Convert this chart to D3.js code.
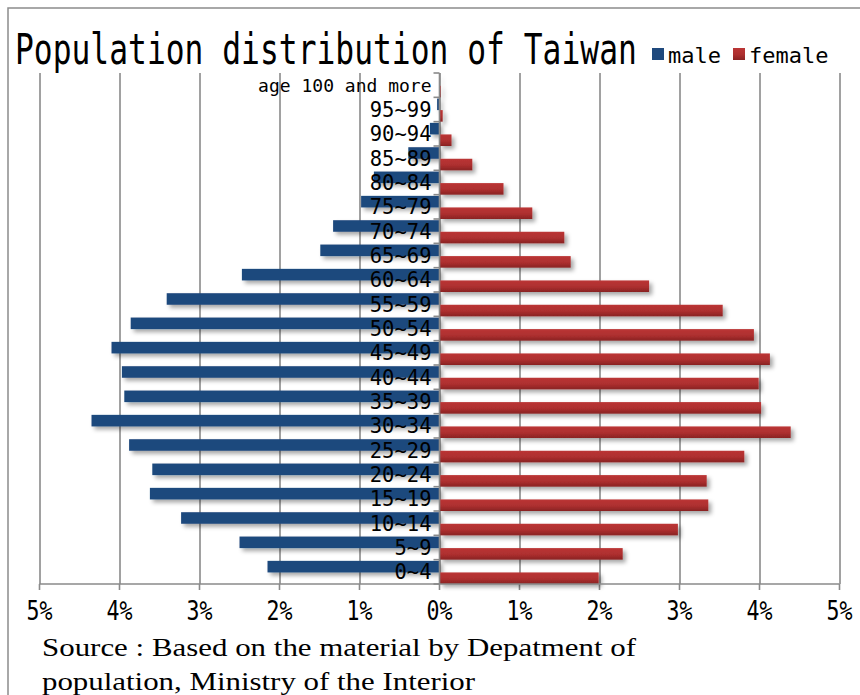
<!DOCTYPE html>
<html>
<head>
<meta charset="utf-8">
<script src="https://cdn.jsdelivr.net/npm/d3@7"></script>
<style>
  body { margin: 0; background: #fff; }
  svg { display: block; }
</style>
</head>
<body>
<div id="chart"></div>
<script>
// age groups, bottom to top
const ageGroups = ["0~4", "5~9", "10~14", "15~19", "20~24", "25~29", "30~34", "35~39",
  "40~44", "45~49", "50~54", "55~59", "60~64", "65~69", "70~74", "75~79",
  "80~84", "85~89", "90~94", "95~99", "age 100 and more"];
// percent of total population
const malePct = [2.15, 2.50, 3.23, 3.62, 3.59, 3.88, 4.35, 3.94, 3.97, 4.10, 3.86, 3.41,
  2.47, 1.49, 1.33, 0.98, 0.82, 0.39, 0.12, 0.03, 0.005];
const femalePct = [1.99, 2.29, 2.98, 3.36, 3.34, 3.81, 4.39, 4.02, 3.99, 4.13, 3.93, 3.54,
  2.62, 1.64, 1.56, 1.16, 0.80, 0.41, 0.15, 0.04, 0.015];
const xTicks = [-5, -4, -3, -2, -1, 0, 1, 2, 3, 4, 5];
const seriesNames = ["male", "female"];

const data = ageGroups.map((g, i) => ({ group: g, male: malePct[i], female: femalePct[i] }));

const width = 860, height = 695;
const plot = { left: 39.5, right: 839.5, top: 73, bottom: 584 };
const mono = "'DejaVu Sans Mono', 'Liberation Mono', monospace";

const svg = d3.select("#chart").append("svg")
  .attr("width", width)
  .attr("height", height);

const defs = svg.append("defs");
const shadow = defs.append("filter").attr("id", "shadow")
  .attr("x", "-10%").attr("y", "-50%").attr("width", "130%").attr("height", "250%");
shadow.append("feDropShadow")
  .attr("dx", 3).attr("dy", 3).attr("stdDeviation", 2)
  .attr("flood-color", "#000").attr("flood-opacity", 0.35);

const redGrad = defs.append("linearGradient").attr("id", "redGrad")
  .attr("x1", 0).attr("y1", 0).attr("x2", 0).attr("y2", 1);
redGrad.append("stop").attr("offset", "0%").attr("stop-color", "#bb3535");
redGrad.append("stop").attr("offset", "55%").attr("stop-color", "#ad2f2f");
redGrad.append("stop").attr("offset", "100%").attr("stop-color", "#892323");

const color = { male: "#1f497d", female: "url(#redGrad)" };

// outer frame
svg.append("rect")
  .attr("x", 8).attr("y", 8).attr("width", 900).attr("height", 800)
  .attr("fill", "none").attr("stroke", "#8c8c8c").attr("stroke-width", 1.5);

const x = d3.scaleLinear().domain([-5, 5]).range([plot.left, plot.right]);
const y = d3.scaleBand()
  .domain(ageGroups.slice().reverse())
  .range([plot.top, plot.bottom]);
const sub = d3.scaleBand()
  .domain(seriesNames)
  .range([1.2, y.bandwidth()]);

// vertical gridlines
svg.append("g")
  .attr("transform", `translate(0, ${plot.bottom})`)
  .call(d3.axisBottom(x).tickValues(xTicks).tickSize(-(plot.bottom - plot.top)).tickFormat(""))
  .call(g => g.select(".domain").remove())
  .call(g => g.selectAll("line").attr("stroke", "#8a8a8a").attr("stroke-width", 1.6));

// tick marks below the axis
svg.append("g")
  .selectAll("line")
  .data(xTicks)
  .join("line")
  .attr("x1", d => x(d)).attr("x2", d => x(d))
  .attr("y1", plot.bottom).attr("y2", plot.bottom + 6)
  .attr("stroke", "#8a8a8a").attr("stroke-width", 1.6);

// bars
const bars = svg.append("g").attr("filter", "url(#shadow)");
seriesNames.forEach(s => {
  bars.selectAll("rect." + s)
    .data(data)
    .join("rect")
    .attr("class", s)
    .attr("x", d => s === "male" ? x(-d[s]) : x(0))
    .attr("y", d => y(d.group) + sub(s))
    .attr("width", d => s === "male" ? x(0) - x(-d[s]) : x(d[s]) - x(0))
    .attr("height", sub.bandwidth())
    .attr("fill", color[s]);
});

// x axis line
svg.append("line")
  .attr("x1", plot.left).attr("x2", plot.right)
  .attr("y1", plot.bottom).attr("y2", plot.bottom)
  .attr("stroke", "#8a8a8a").attr("stroke-width", 1.6);

// category axis at 0 with outward ticks
const catAxis = svg.append("g");
catAxis.append("line")
  .attr("x1", x(0)).attr("x2", x(0))
  .attr("y1", plot.top).attr("y2", plot.bottom)
  .attr("stroke", "#8a8a8a").attr("stroke-width", 1.6);
catAxis.selectAll("line.tick")
  .data(y.domain().concat(["end"]))
  .join("line")
  .attr("class", "tick")
  .attr("x1", x(0) - 6).attr("x2", x(0))
  .attr("y1", (d, i) => plot.top + i * y.step())
  .attr("y2", (d, i) => plot.top + i * y.step())
  .attr("stroke", "#8a8a8a").attr("stroke-width", 1.6);

// category labels
svg.append("g")
  .selectAll("text")
  .data(ageGroups)
  .join("text")
  .attr("x", x(0) - 8)
  .attr("y", d => y(d) + y.bandwidth() / 2)
  .attr("dy", "0.36em")
  .attr("text-anchor", "end")
  .attr("font-family", mono)
  .attr("font-size", d => d.length > 6 ? 18 : 20.5)
  .attr("fill", "#000")
  .text(d => d);

// x tick labels
svg.append("g")
  .selectAll("text")
  .data(xTicks)
  .join("text")
  .attr("x", d => x(d))
  .attr("y", 620)
  .attr("text-anchor", "middle")
  .attr("font-family", mono)
  .attr("font-size", 26)
  .attr("textLength", 26)
  .attr("lengthAdjust", "spacingAndGlyphs")
  .attr("fill", "#000")
  .text(d => Math.abs(d) + "%");

// title, squeezed horizontally to the reference width
const title = svg.append("text")
  .attr("font-family", mono)
  .attr("font-size", 42)
  .attr("fill", "#000")
  .text("Population distribution of Taiwan");
const titleW = title.node().getComputedTextLength();
title.attr("transform", `translate(15, 64) scale(${622 / titleW}, 1)`);

// legend
const legendX = [652, 733];
const legend = svg.append("g");
seriesNames.forEach((s, i) => {
  legend.append("rect")
    .attr("x", legendX[i]).attr("y", 48)
    .attr("width", 12).attr("height", 12)
    .attr("fill", color[s]);
  legend.append("text")
    .attr("x", legendX[i] + 16).attr("y", 63)
    .attr("font-family", mono)
    .attr("font-size", 22)
    .attr("fill", "#000")
    .text(s);
});

// source note
const serif = "'Liberation Serif', 'DejaVu Serif', serif";
svg.append("text")
  .attr("x", 42).attr("y", 656)
  .attr("font-family", serif).attr("font-size", 26)
  .attr("textLength", 594).attr("lengthAdjust", "spacingAndGlyphs")
  .attr("fill", "#000")
  .text("Source : Based on the material by Depatment of");
svg.append("text")
  .attr("x", 42).attr("y", 690)
  .attr("font-family", serif).attr("font-size", 26)
  .attr("textLength", 433).attr("lengthAdjust", "spacingAndGlyphs")
  .attr("fill", "#000")
  .text("population, Ministry of the Interior");
</script>
</body>
</html>
